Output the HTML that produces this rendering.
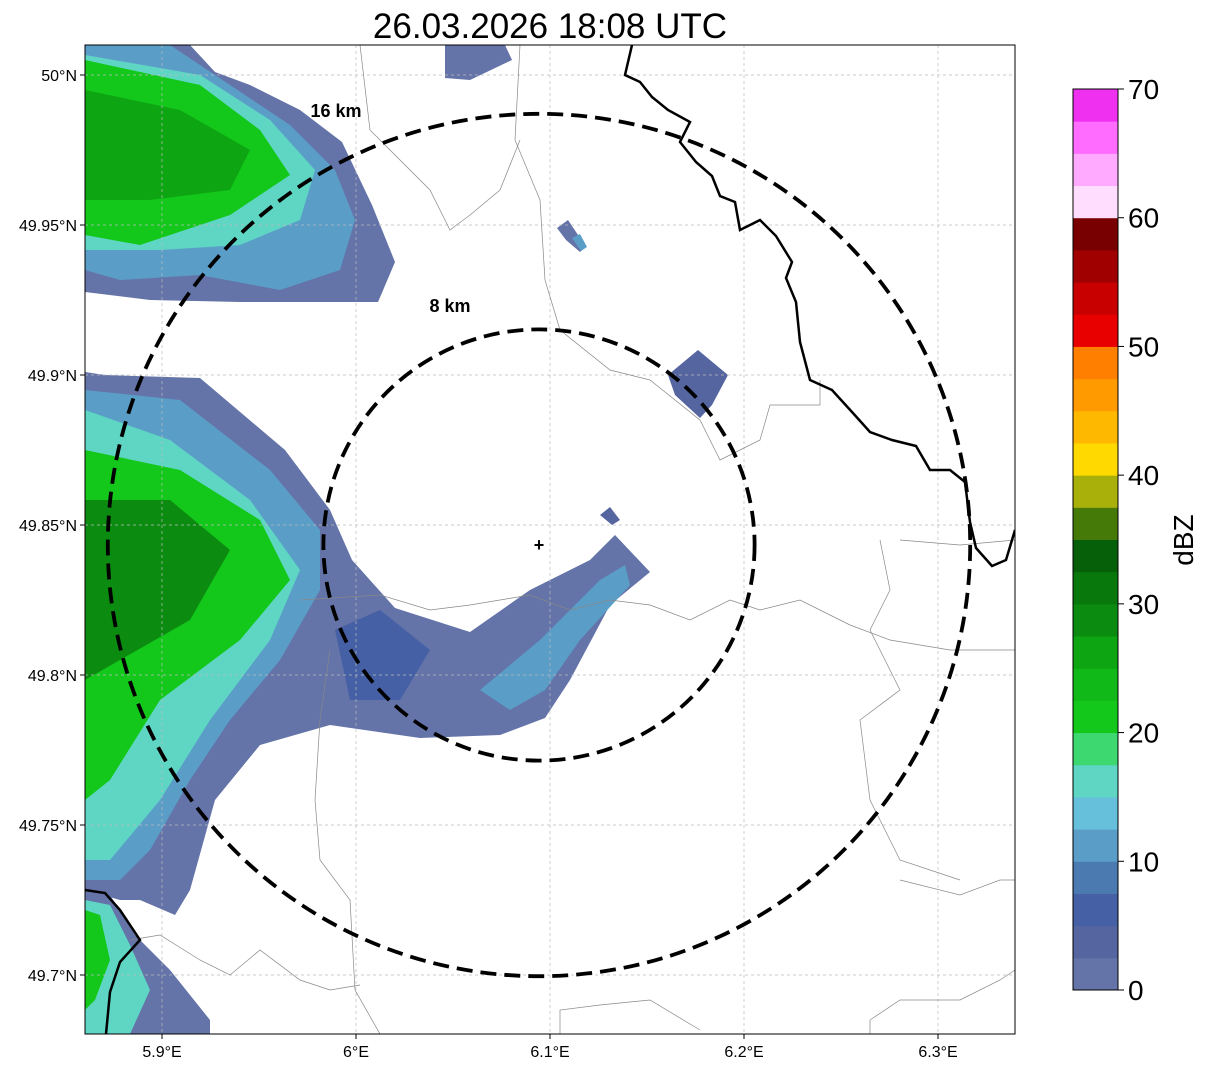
<!DOCTYPE html>
<html><head><meta charset="utf-8"><style>
body{margin:0;background:#fff;font-family:"Liberation Sans",sans-serif}
svg text{font-family:"Liberation Sans",sans-serif}
</style></head><body>
<svg width="1207" height="1069" viewBox="0 0 1207 1069">
<defs><clipPath id="mc"><rect x="85" y="45" width="930" height="989"/></clipPath></defs>
<text x="550" y="38" font-size="35" text-anchor="middle">26.03.2026 18:08 UTC</text>
<g id="map" clip-path="url(#mc)"></g>
<rect x="85" y="45" width="930" height="989" fill="none" stroke="#000" stroke-width="1"/>
<g id="axes"></g>
<g id="cbar"></g>
</svg>
<script>
const lonTicks=[5.9,6.0,6.1,6.2,6.3];
const lonLabels=["5.9°E","6°E","6.1°E","6.2°E","6.3°E"];
const latTicks=[50.0,49.95,49.9,49.85,49.8,49.75,49.7];
const latLabels=["50°N","49.95°N","49.9°N","49.85°N","49.8°N","49.75°N","49.7°N"];
const cbLevels=[0,2.5,5,7.5,10,12.5,15,17.5,20,22.5,25,27.5,30,32.5,35,37.5,40,42.5,45,47.5,50,52.5,55,57.5,60,62.5,65,67.5];
const cbColors=["#6473a8","#5565a0","#4560a5","#4a7ab0","#5a9ec8","#66c0dc","#5fd6c4","#3dd870","#13c81a","#10b818","#0ea512","#0b8c10","#08780c","#056009","#457a08","#aab00a","#ffd900","#ffb800","#ff9a00","#ff7f00","#e80000","#c80000","#a00000","#780000","#ffddff","#ffaaff","#ff6cff","#f030f0"];
const cbTicks=[0,10,20,30,40,50,60,70];
const ringKm=[8,16];
const ringLabelPos=[[450,306],[336,111]];
const X=lon=>162+(lon-5.9)*1940;
const Y=lat=>75+(50-lat)*3000;
const CB=v=>990-v*901/70;
const NS="http://www.w3.org/2000/svg";
function mk(t,a,p){const e=document.createElementNS(NS,t);for(const k in a)e.setAttribute(k,a[k]);p.appendChild(e);return e;}
const map=document.getElementById('map'),axes=document.getElementById('axes'),cb=document.getElementById('cbar');
function col(v){let i=Math.min(cbColors.length-1,Math.floor(v/2.5));return cbColors[i];}
const echoes=[
[2,"85,45 190,45 215,72 250,85 300,110 342,142 372,205 395,262 378,302 240,302 150,300 85,292"],
[2,"445,45 505,45 512,60 470,80 445,78"],
[10,"85,45 170,45 230,85 290,125 335,170 355,220 340,270 280,290 200,275 120,280 85,270"],
[16,"85,55 200,75 270,120 315,170 300,220 240,245 160,250 85,250"],
[22,"85,60 200,85 260,130 290,175 230,215 140,245 85,235"],
[27,"85,90 180,110 250,150 230,190 150,200 85,200"],
[2,"85,372 105,375 200,378 285,450 330,510 352,560 395,608 470,632 530,590 590,560 615,535 650,572 610,605 570,680 545,718 500,735 420,738 330,725 260,745 215,800 190,890 175,915 140,900 120,900 85,890"],
[10,"85,390 180,400 270,470 320,530 320,590 280,660 230,720 190,780 150,850 120,880 85,880"],
[15,"85,410 170,440 250,500 300,570 270,640 210,720 160,800 110,860 85,860"],
[21,"85,450 180,470 260,520 290,580 240,640 160,700 110,780 85,800"],
[28,"85,500 170,500 230,550 190,620 120,660 85,680"],
[12,"480,690 540,640 600,580 625,565 630,585 580,640 545,690 510,710"],
[5,"335,630 380,610 430,650 400,700 350,700"],
[2,"85,890 110,895 135,935 170,970 210,1020 210,1034 85,1034"],
[16,"85,900 110,905 130,945 150,990 130,1034 85,1034"],
[21,"85,910 100,915 110,960 95,1000 85,1010"],
[2,"557,228 568,220 578,235 586,246 580,252 566,240"],
[12,"572,238 580,234 587,247 581,251"],
[3,"668,375 698,350 728,375 712,405 700,418 675,395"],
[3,"600,515 610,507 620,520 612,525"]
];
echoes.forEach(e=>{const p=mk('polygon',{points:e[1],fill:col(e[0])},map);

});
lonTicks.forEach(l=>{const g=mk('line',{x1:X(l),x2:X(l),y1:45,y2:1034,stroke:'#bbb','stroke-width':0.7,'stroke-dasharray':'3,3'},map);});
latTicks.forEach(l=>{const g=mk('line',{y1:Y(l),y2:Y(l),x1:85,x2:1015,stroke:'#bbb','stroke-width':0.7,'stroke-dasharray':'3,3'},map);});
const thin=["520,45 515,140 540,200 545,280 560,330 610,370 650,380 700,420 720,460 760,440 770,405 820,405 820,380","360,45 370,130 430,190 450,230 470,215 500,190 520,140","300,600 380,595 430,610 470,605 530,595 570,610 610,600 650,605 690,620 730,600 760,610 800,600 850,625 890,640 950,650 1015,650","330,650 320,720 315,800 320,860 350,900 355,990 380,1034","870,1034 870,1020 900,1000 960,1000 1000,980 1015,970","900,880 960,895 1000,880 1015,880","880,540 890,590 870,630 900,690 860,720 870,800 900,860 960,880","1015,540 960,545 900,540","130,940 160,935 200,960 230,975 260,950 300,980 330,990 360,985","560,1034 560,1010 600,1005 650,1000 700,1030"];
thin.forEach(p=>{const l=mk('polyline',{points:p,fill:'none',stroke:'#888','stroke-width':0.7},map);});
const borders=["632,45 625,75 640,82 652,97 668,110 690,122 680,142 696,162 712,176 720,196 735,202 740,230 760,220 776,236 792,262 786,278 796,302 800,342 810,380 832,390 852,412 870,432 892,440 916,446 930,470 950,470 965,482 970,522 976,548 992,566 1006,560 1015,530","85,890 105,893 120,910 140,940 120,962 110,992 106,1034"];
borders.forEach(p=>{const l=mk('polyline',{points:p,fill:'none',stroke:'#000','stroke-width':2.5},map);});
const cx=539,cy=545;
ringKm.forEach((k,i)=>{const r=k*26.95;const c=mk('ellipse',{cx:cx,cy:cy,rx:r,ry:r,fill:'none',stroke:'#000','stroke-width':3.8,'stroke-dasharray':'16,8'},map);
const t=mk('text',{x:ringLabelPos[i][0],y:ringLabelPos[i][1]+6,'font-size':18,'font-weight':'bold','text-anchor':'middle'},map);t.textContent=k+' km';});
const rm=mk('text',{x:cx,y:cy+6,'font-size':18,'font-weight':'bold','text-anchor':'middle'},map);rm.textContent='+';
lonTicks.forEach((l,i)=>{mk('line',{x1:X(l),x2:X(l),y1:1034,y2:1039,stroke:'#000'},axes);const t=mk('text',{x:X(l),y:1057,'font-size':16,'text-anchor':'middle'},axes);t.textContent=lonLabels[i];});
latTicks.forEach((l,i)=>{mk('line',{x1:80,x2:85,y1:Y(l),y2:Y(l),stroke:'#000'},axes);const t=mk('text',{x:77,y:Y(l)+6,'font-size':16,'text-anchor':'end'},axes);t.textContent=latLabels[i];});
cbLevels.forEach((v,i)=>{const r=mk('rect',{x:1073,y:CB(v+2.5),width:45,height:CB(v)-CB(v+2.5)+0.5,fill:cbColors[i]},cb);});
mk('rect',{x:1073,y:CB(70),width:45,height:CB(0)-CB(70),fill:'none',stroke:'#000','stroke-width':1},cb);
cbTicks.forEach(v=>{mk('line',{x1:1118,x2:1124,y1:CB(v),y2:CB(v),stroke:'#000'},cb);const t=mk('text',{x:1128,y:CB(v)+10,'font-size':28},cb);t.textContent=v;});
const cl=mk('text',{x:1193,y:540,'font-size':28,'text-anchor':'middle',transform:'rotate(-90 1193 540)'},cb);cl.textContent='dBZ';
</script>
</body></html>
